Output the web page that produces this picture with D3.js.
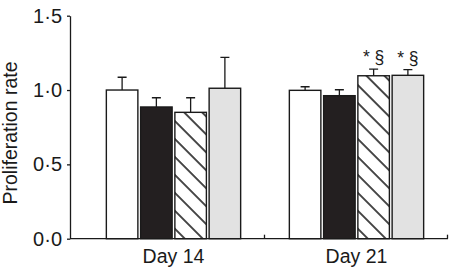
<!DOCTYPE html>
<html>
<head>
<meta charset="utf-8">
<script src="https://cdn.jsdelivr.net/npm/d3@7"></script>
<style>
  body { margin: 0; background: #fff; }
  text { font-family: "Liberation Sans", Arial, Helvetica, sans-serif; fill: #1a1a1a; }
</style>
</head>
<body>
<div id="chart"></div>
<script>
// data
const days = ["Day 14", "Day 21"];
const groups = ["g1", "g2", "g3", "g4"];
const means = {
  "Day 14": [1.00, 0.886, 0.85, 1.012],
  "Day 21": [0.998, 0.962, 1.096, 1.099]
};
const errTops = {
  "Day 14": [1.086, 0.948, 0.948, 1.22],
  "Day 21": [1.022, 1.002, 1.141, 1.137]
};
const marks = {
  "Day 14": ["", "", "", ""],
  "Day 21": ["", "", "* \u00a7", "* \u00a7"]
};
const yTicks = [0, 0.5, 1.0, 1.5];

const width = 450, height = 268;
const margin = { top: 15.7, right: 2, bottom: 29.3, left: 70 };

const svg = d3.select("#chart").append("svg")
    .attr("width", width)
    .attr("height", height);

const y = d3.scaleLinear()
    .domain([0, 1.5])
    .range([height - margin.bottom, margin.top]);

const x0 = d3.scaleBand()
    .domain(days)
    .range([82, width - margin.right])
    .padding(0);

const groupW = 134.3;
const x1 = d3.scaleBand()
    .domain(groups)
    .range([0, groupW])
    .paddingInner(0.08)
    .paddingOuter(0);

// hatch pattern
const defs = svg.append("defs");
defs.append("pattern")
    .attr("id", "hatch")
    .attr("patternUnits", "userSpaceOnUse")
    .attr("width", 12.7)
    .attr("height", 12.7)
    .attr("patternTransform", "rotate(-45)")
  .append("line")
    .attr("x1", 1).attr("y1", 0)
    .attr("x2", 1).attr("y2", 12.7)
    .attr("stroke", "#1a1a1a")
    .attr("stroke-width", 1.6);

const fills = ["#ffffff", "#231f20", "url(#hatch)", "#e2e2e2"];

// bars
const dayG = svg.selectAll("g.day")
  .data(days)
  .join("g")
    .attr("class", "day")
    .attr("transform", d => `translate(${x0(d) + (x0.bandwidth() - groupW) / 2},0)`);

const rows = d => groups.map((g, i) => ({ g, i, v: means[d][i], e: errTops[d][i], m: marks[d][i] }));

dayG.selectAll("rect")
  .data(rows)
  .join("rect")
    .attr("x", d => x1(d.g))
    .attr("y", d => y(d.v))
    .attr("width", x1.bandwidth())
    .attr("height", d => y(0) - y(d.v))
    .attr("fill", d => fills[d.i])
    .attr("stroke", "#1a1a1a")
    .attr("stroke-width", 1.4);

// error bars
dayG.selectAll("path.err")
  .data(rows)
  .join("path")
    .attr("class", "err")
    .attr("d", d => {
      const cx = x1(d.g) + x1.bandwidth() / 2;
      return `M${cx},${y(d.v)}V${y(d.e)}M${cx - 4.5},${y(d.e)}H${cx + 4.5}`;
    })
    .attr("fill", "none")
    .attr("stroke", "#1a1a1a")
    .attr("stroke-width", 1.3);

// significance marks
dayG.selectAll("text.sig")
  .data(d => rows(d).filter(r => r.m))
  .join("text")
    .attr("class", "sig")
    .attr("x", d => x1(d.g) + x1.bandwidth() / 2)
    .attr("y", d => y(d.e) - 6)
    .attr("text-anchor", "middle")
    .style("font-size", "17.5px")
    .text(d => d.m);

// y axis
const yAxis = svg.append("g")
    .attr("transform", `translate(${margin.left},0)`)
    .call(d3.axisLeft(y)
      .tickValues(yTicks)
      .tickSize(3)
      .tickSizeOuter(0)
      .tickPadding(5)
      .tickFormat(d => d3.format(".1f")(d).replace(".", "\u00b7")));
yAxis.select(".domain").attr("stroke", "#1a1a1a").attr("stroke-width", 1.3);
yAxis.selectAll(".tick line").attr("stroke", "#1a1a1a").attr("stroke-width", 1.3);
yAxis.selectAll(".tick text")
    .style("font-size", "20px")
    .attr("fill", "#1a1a1a");

// x axis: baseline with inward ticks at band ends
const xAxis = svg.append("g");
xAxis.append("line")
    .attr("x1", margin.left)
    .attr("x2", width - margin.right)
    .attr("y1", y(0)).attr("y2", y(0))
    .attr("stroke", "#1a1a1a")
    .attr("stroke-width", 1.3);
xAxis.selectAll("line.tk")
  .data(days)
  .join("line")
    .attr("class", "tk")
    .attr("x1", d => x0(d) + x0.bandwidth() - 0.5)
    .attr("x2", d => x0(d) + x0.bandwidth() - 0.5)
    .attr("y1", y(0)).attr("y2", y(0) - 4)
    .attr("stroke", "#1a1a1a")
    .attr("stroke-width", 1.3);
xAxis.selectAll("text")
  .data(days)
  .join("text")
    .attr("x", d => x0(d) + x0.bandwidth() / 2)
    .attr("y", y(0) + 24)
    .attr("text-anchor", "middle")
    .style("font-size", "19.5px")
    .text(d => d);

// y label
svg.append("text")
    .attr("transform", "rotate(-90)")
    .attr("x", -133)
    .attr("y", 17)
    .attr("text-anchor", "middle")
    .style("font-size", "19.5px")
    .text("Proliferation rate");
</script>
</body>
</html>
